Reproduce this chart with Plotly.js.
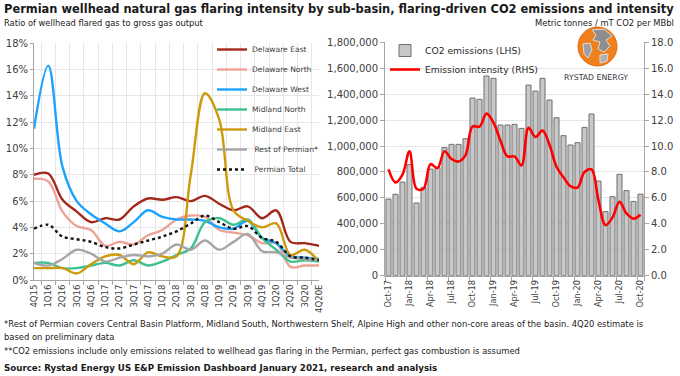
<!DOCTYPE html>
<html><head><meta charset="utf-8">
<script src="https://cdn.plot.ly/plotly-3.0.1.min.js"></script>
<style>html,body{margin:0;padding:0;background:#fff}#chart{width:680px;height:376px}</style>
</head><body><div id="chart"></div>
<script>
// ---------- Left chart data (ratio of wellhead flared gas to gross gas output, %) ----------
const quarters = ['4Q15','1Q16','2Q16','3Q16','4Q16','1Q17','2Q17','3Q17','4Q17','1Q18','2Q18','3Q18','4Q18','1Q19','2Q19','3Q19','4Q19','1Q20','2Q20','3Q20','4Q20E'];
const delawareEast  = [8.0, 8.1, 6.1, 5.2, 4.4, 4.7, 4.6, 5.6, 6.2, 6.1, 6.3, 6.0, 6.4, 5.8, 5.3, 5.6, 4.7, 5.3, 2.9, 2.8, 2.6];
const delawareNorth = [7.7, 7.5, 5.2, 4.1, 3.8, 2.6, 2.9, 2.7, 3.4, 3.8, 4.6, 4.9, 4.8, 3.8, 3.6, 3.4, 2.8, 2.8, 1.0, 1.1, 1.1];
const delawareWest  = [11.5, 16.3, 8.6, 6.0, 5.0, 4.3, 3.7, 4.4, 5.3, 4.8, 4.6, 4.6, 4.5, 4.0, 3.9, 4.5, 3.2, 2.8, 1.8, 1.7, 1.6];
const midlandNorth  = [1.3, 1.3, 0.9, 0.9, 1.1, 1.3, 1.1, 1.5, 1.1, 1.4, 1.9, 2.4, 4.4, 4.7, 4.2, 4.6, 3.2, 2.3, 1.4, 1.5, 1.4];
const midlandEast   = [0.9, 0.9, 0.9, 0.5, 1.2, 1.8, 1.9, 1.2, 2.1, 1.8, 1.8, 8.0, 14.2, 12.2, 5.3, 4.5, 4.0, 4.3, 1.9, 2.3, 1.4];
const restOfPermian = [1.3, 1.1, 1.6, 2.3, 2.0, 1.4, 1.7, 1.9, 1.8, 2.0, 2.7, 2.3, 3.0, 2.3, 2.9, 3.5, 2.2, 2.1, 1.7, 1.6, 1.5];
const permianTotal  = [3.9, 4.2, 3.3, 3.1, 2.9, 2.5, 2.4, 2.7, 3.0, 3.3, 3.7, 4.3, 4.9, 4.4, 3.9, 4.1, 3.2, 2.9, 1.8, 1.7, 1.5];

// ---------- Right chart data ----------
const months = ['Oct-17','Nov-17','Dec-17','Jan-18','Feb-18','Mar-18','Apr-18','May-18','Jun-18','Jul-18','Aug-18','Sep-18',
  'Oct-18','Nov-18','Dec-18','Jan-19','Feb-19','Mar-19','Apr-19','May-19','Jun-19','Jul-19','Aug-19','Sep-19',
  'Oct-19','Nov-19','Dec-19','Jan-20','Feb-20','Mar-20','Apr-20','May-20','Jun-20','Jul-20','Aug-20','Sep-20','Oct-20'];
const co2Emissions = [591000, 628000, 722000, 857000, 561000, 681000, 822000, 835000, 988000, 1013000, 1013000, 1056000,
  1370000, 1360000, 1540000, 1522000, 1162000, 1162000, 1167000, 1136000, 1470000, 1424000, 1522000, 1355000,
  1218000, 1080000, 1008000, 1026000, 1144000, 1247000, 730000, 494000, 609000, 782000, 656000, 573000, 629000];
const emissionIntensity = [8.2, 7.2, 7.8, 9.6, 6.7, 6.7, 8.6, 8.3, 9.6, 9.0, 8.8, 9.3,
  11.5, 11.5, 12.5, 11.8, 10.4, 9.2, 9.2, 8.5, 11.4, 10.7, 11.2, 10.1,
  8.4, 7.6, 6.9, 6.8, 8.0, 8.2, 5.8, 3.9, 4.5, 5.7, 4.8, 4.4, 4.7];
const monthTickLabels = ['Oct-17','Jan-18','Apr-18','Jul-18','Oct-18','Jan-19','Apr-19','Jul-19','Oct-19','Jan-20','Apr-20','Jul-20','Oct-20'];

// ---------- helpers for layout placement (pixels -> paper) ----------
const W = 680, H = 376;
const px = v => v / W;
const py = v => 1 - v / H;

const FONT = 'DejaVu Sans, Verdana, sans-serif';
const TXT = '#404040';

function lineTrace(name, y, color, dash, group) {
  return {
    type: 'scatter', mode: 'lines', name: name, x: quarters, y: y,
    line: {color: color, width: 2.4, shape: 'spline', smoothing: 1, dash: dash || 'solid'},
    xaxis: 'x', yaxis: 'y', legend: 'legend', legendgroup: group
  };
}

const traces = [
  lineTrace('Delaware East', delawareEast, '#A3281C', 'solid', 'g1'),
  lineTrace('Delaware North', delawareNorth, '#EEA197', 'solid', 'g2'),
  lineTrace('Delaware West', delawareWest, '#1AA3FF', 'solid', 'g3'),
  lineTrace('Midland North', midlandNorth, '#3DC28E', 'solid', 'g4'),
  lineTrace('Midland East', midlandEast, '#CC9A0A', 'solid', 'g5'),
  lineTrace(' Rest of Permian*', restOfPermian, '#A6A6A6', 'solid', 'g6'),
  lineTrace(' Permian Total', permianTotal, '#111111', 'dot', 'g7'),
  {
    type: 'bar', name: 'CO2 emissions (LHS)', x: months, y: co2Emissions,
    marker: {color: '#C8C8C8', line: {color: '#6F6F6F', width: 1}},
    xaxis: 'x2', yaxis: 'y2', legend: 'legend2'
  },
  {
    type: 'scatter', mode: 'lines', name: 'Emission intensity (RHS)', x: months, y: emissionIntensity,
    line: {color: '#FF0000', width: 2.6, shape: 'spline', smoothing: 1},
    xaxis: 'x2', yaxis: 'y3', legend: 'legend2'
  }
];

const axisCommon = {
  linecolor: '#A6A6A6', linewidth: 1, showline: true, zeroline: false,
  tickfont: {family: FONT, size: 10, color: TXT}, tickcolor: '#A6A6A6', ticklen: 4, ticks: 'outside'
};

const layout = {
  width: W, height: H, margin: {l: 0, r: 0, t: 0, b: 0},
  paper_bgcolor: '#ffffff', plot_bgcolor: 'rgba(0,0,0,0)',
  showlegend: true, bargap: 0.28,
  font: {family: FONT, color: TXT},
  xaxis: Object.assign({}, axisCommon, {
    domain: [px(34), px(319)], anchor: 'y', type: 'category',
    tickson: 'boundaries', showgrid: true, gridcolor: '#E6E6E6', gridwidth: 1,
    tickangle: -90, tickfont: {family: FONT, size: 8.6, color: TXT}
  }),
  yaxis: Object.assign({}, axisCommon, {
    domain: [py(280), py(43.3)], anchor: 'x', range: [0, 18], dtick: 2, ticksuffix: '%',
    showgrid: true, gridcolor: '#E6E6E6', ticklen: 3
  }),
  xaxis2: Object.assign({}, axisCommon, {
    domain: [px(385), px(644)], anchor: 'y2', type: 'category',
    tickvals: monthTickLabels, ticktext: monthTickLabels, tickson: 'boundaries',
    showgrid: false, tickangle: -90, tickfont: {family: FONT, size: 8.2, color: TXT}
  }),
  yaxis2: Object.assign({}, axisCommon, {
    domain: [py(275.7), py(42.3)], anchor: 'x2', range: [0, 1800000], dtick: 200000,
    tickformat: ',d', showgrid: true, gridcolor: '#E6E6E6'
  }),
  yaxis3: Object.assign({}, axisCommon, {
    overlaying: 'y2', anchor: 'x2', side: 'right', range: [0, 18], dtick: 2, tickformat: '.1f',
    showgrid: false
  }),
  legend: {
    x: px(212), y: py(35), xanchor: 'left', yanchor: 'top', bgcolor: 'rgba(0,0,0,0)',
    font: {family: FONT, size: 7.6, color: TXT}, tracegroupgap: 1, itemwidth: 30
  },
  legend2: {
    x: px(385), y: py(36), xanchor: 'left', yanchor: 'top', bgcolor: 'rgba(0,0,0,0)',
    font: {family: FONT, size: 9.2, color: '#262626'}, itemwidth: 30
  },
  annotations: [
    {text: '<b>Permian wellhead natural gas flaring intensity by sub-basin, flaring-driven CO2 emissions and intensity</b>',
     xref: 'paper', yref: 'paper', x: px(2), y: py(8.5), xanchor: 'left', yanchor: 'middle', showarrow: false,
     font: {family: FONT, size: 11.45, color: '#1a1a1a'}},
    {text: 'Ratio of wellhead flared gas to gross gas output', xref: 'paper', yref: 'paper', x: px(2), y: py(23),
     xanchor: 'left', yanchor: 'middle', showarrow: false, font: {family: FONT, size: 8.3, color: '#1a1a1a'}},
    {text: 'Metric tonnes / mT CO2 per MBbl', xref: 'paper', yref: 'paper', x: px(676), y: py(23),
     xanchor: 'right', yanchor: 'middle', showarrow: false, font: {family: FONT, size: 8.4, color: '#1a1a1a'}},
    {text: '*Rest of Permian covers Central Basin Platform, Midland South, Northwestern Shelf, Alpine High and other non-core areas of the basin. 4Q20 estimate is',
     xref: 'paper', yref: 'paper', x: px(2), y: py(324), xanchor: 'left', yanchor: 'middle', showarrow: false,
     font: {family: FONT, size: 8.4, color: '#1a1a1a'}},
    {text: 'based on preliminary data', xref: 'paper', yref: 'paper', x: px(2), y: py(337), xanchor: 'left', yanchor: 'middle',
     showarrow: false, font: {family: FONT, size: 8.4, color: '#1a1a1a'}},
    {text: '**CO2 emissions include only emissions related to wellhead gas flaring in the Permian, perfect gas combustion is assumed',
     xref: 'paper', yref: 'paper', x: px(2), y: py(351), xanchor: 'left', yanchor: 'middle', showarrow: false,
     font: {family: FONT, size: 8.4, color: '#1a1a1a'}},
    {text: '<b>Source: Rystad Energy US E&P Emission Dashboard January 2021, research and analysis</b>',
     xref: 'paper', yref: 'paper', x: px(2), y: py(367.5), xanchor: 'left', yanchor: 'middle', showarrow: false,
     font: {family: FONT, size: 8.7, color: '#1a1a1a'}},
    {text: 'RYSTAD ENERGY', xref: 'paper', yref: 'paper', x: px(596), y: py(78), xanchor: 'center', yanchor: 'middle',
     showarrow: false, font: {family: FONT, size: 7.8, color: '#333333'}}
  ],
  shapes: [
    {type: 'circle', xref: 'paper', yref: 'paper', x0: px(578), x1: px(617), y0: py(66), y1: py(27),
     fillcolor: '#F0801E', line: {color: '#E06A10', width: 1}},
    {type: 'path', xref: 'paper', yref: 'paper',
     path: 'M ' + px(592) + ',' + py(30) + ' L ' + px(604) + ',' + py(29) + ' L ' + px(612) + ',' + py(36) + ' L ' + px(606) + ',' + py(40) +
           ' L ' + px(610) + ',' + py(46) + ' L ' + px(604) + ',' + py(52) + ' L ' + px(598) + ',' + py(49) + ' L ' + px(600) + ',' + py(42) +
           ' L ' + px(593) + ',' + py(40) + ' L ' + px(596) + ',' + py(35) + ' Z',
     fillcolor: '#8E8E8E', line: {color: '#DDDDDD', width: 1}},
    {type: 'path', xref: 'paper', yref: 'paper',
     path: 'M ' + px(583) + ',' + py(44) + ' L ' + px(590) + ',' + py(43) + ' L ' + px(592) + ',' + py(50) + ' L ' + px(588) + ',' + py(58) +
           ' L ' + px(584) + ',' + py(54) + ' Z',
     fillcolor: '#A0A0A0', line: {color: '#DDDDDD', width: 1}},
    {type: 'path', xref: 'paper', yref: 'paper',
     path: 'M ' + px(600) + ',' + py(55) + ' L ' + px(608) + ',' + py(54) + ' L ' + px(607) + ',' + py(61) + ' L ' + px(600) + ',' + py(63) + ' Z',
     fillcolor: '#B0B0B0', line: {color: '#DDDDDD', width: 1}}
  ]
};

Plotly.newPlot('chart', traces, layout, {displayModeBar: false, staticPlot: true});
</script>
</body></html>
